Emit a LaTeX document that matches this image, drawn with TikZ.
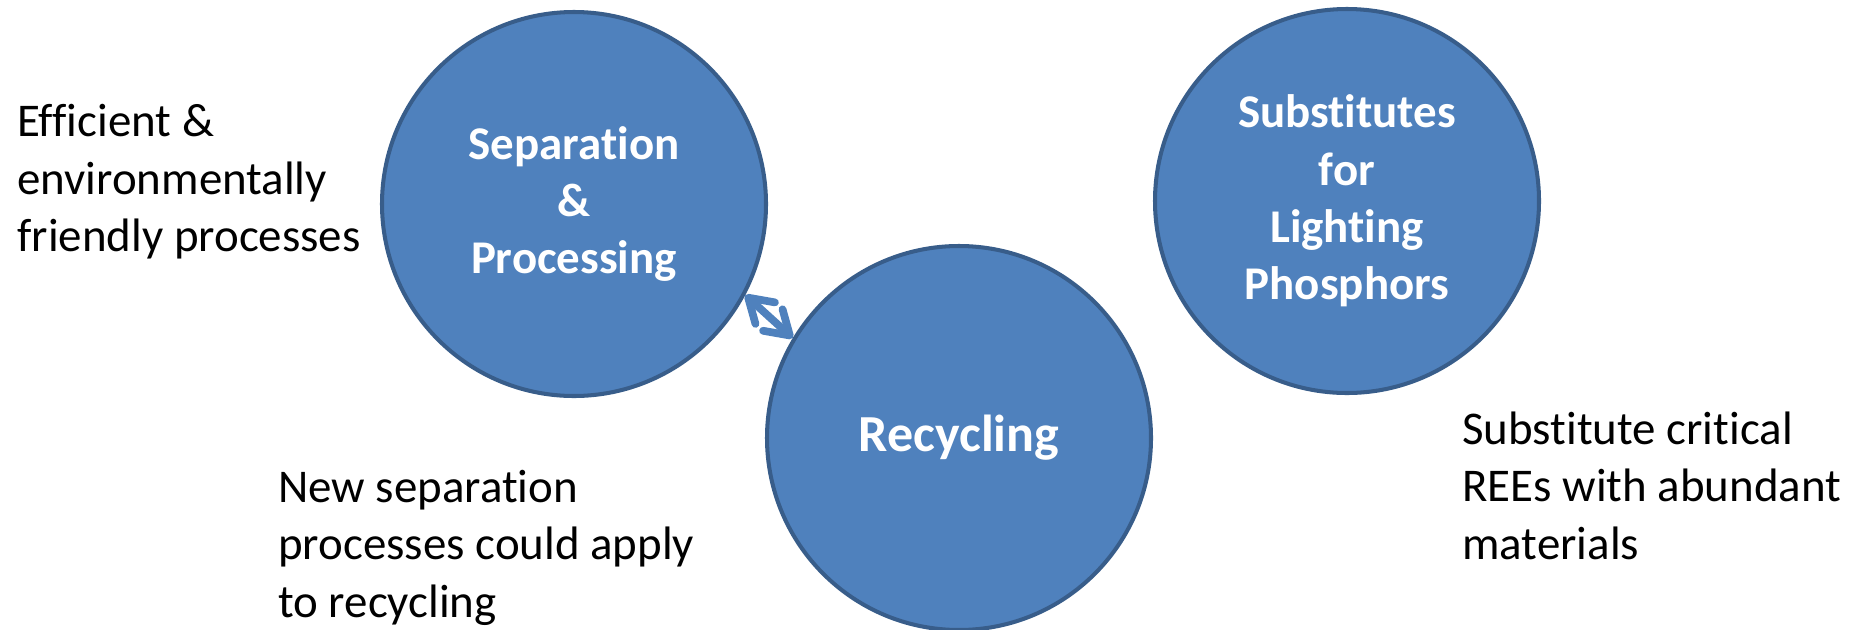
\documentclass[tikz,border=0pt]{standalone}
\usepackage{fontspec}
\setmainfont{Carlito}[Ligatures=NoCommon]
\usetikzlibrary{arrows.meta}

\definecolor{topicfill}{HTML}{4F81BD}
\definecolor{topicline}{HTML}{385D8A}

\begin{document}
\begin{tikzpicture}[
    topic/.style={circle, draw=topicline, line width=2.3pt, fill=topicfill, minimum size=7.68cm, inner sep=0pt, align=center, text=white, font=\fontsize{26.7}{32.6}\selectfont\bfseries},
    note/.style={anchor=base west, inner sep=0pt, align=left, font=\fontsize{26.7}{32.6}\selectfont},
    >={Straight Barb[round, length=0.46cm, width=0.58cm, line width=4.4pt]}
]

\useasboundingbox (0,0) rectangle (37.32,-12.58);

% Circles
\node[topic] (sep) at (11.48, -4.08) {Separation\\ \&\\ Processing};
\node[topic, font=\fontsize{29.6}{35}\selectfont\bfseries] (rec) at (19.18, -8.76) {Recycling};
\node[topic] (sub) at (26.94, -4.02) {Substitutes\\ for\\ Lighting\\ Phosphors};

% Notes (base = last line)
\node[note] (sepnote) at (0.34, -5.03) {Efficient \&\\ environmentally\\ friendly processes};
\node[note] (recnote) at (5.56, -12.34) {New separation\\ processes could apply\\ to recycling};
\node[note] (subnote) at (29.24, -11.18) {Substitute critical\\ REEs with abundant\\ materials};

% Arrow
\draw[<->, topicfill, line width=4.4pt] (sep.-28) -- (rec.149);

\end{tikzpicture}
\end{document}
